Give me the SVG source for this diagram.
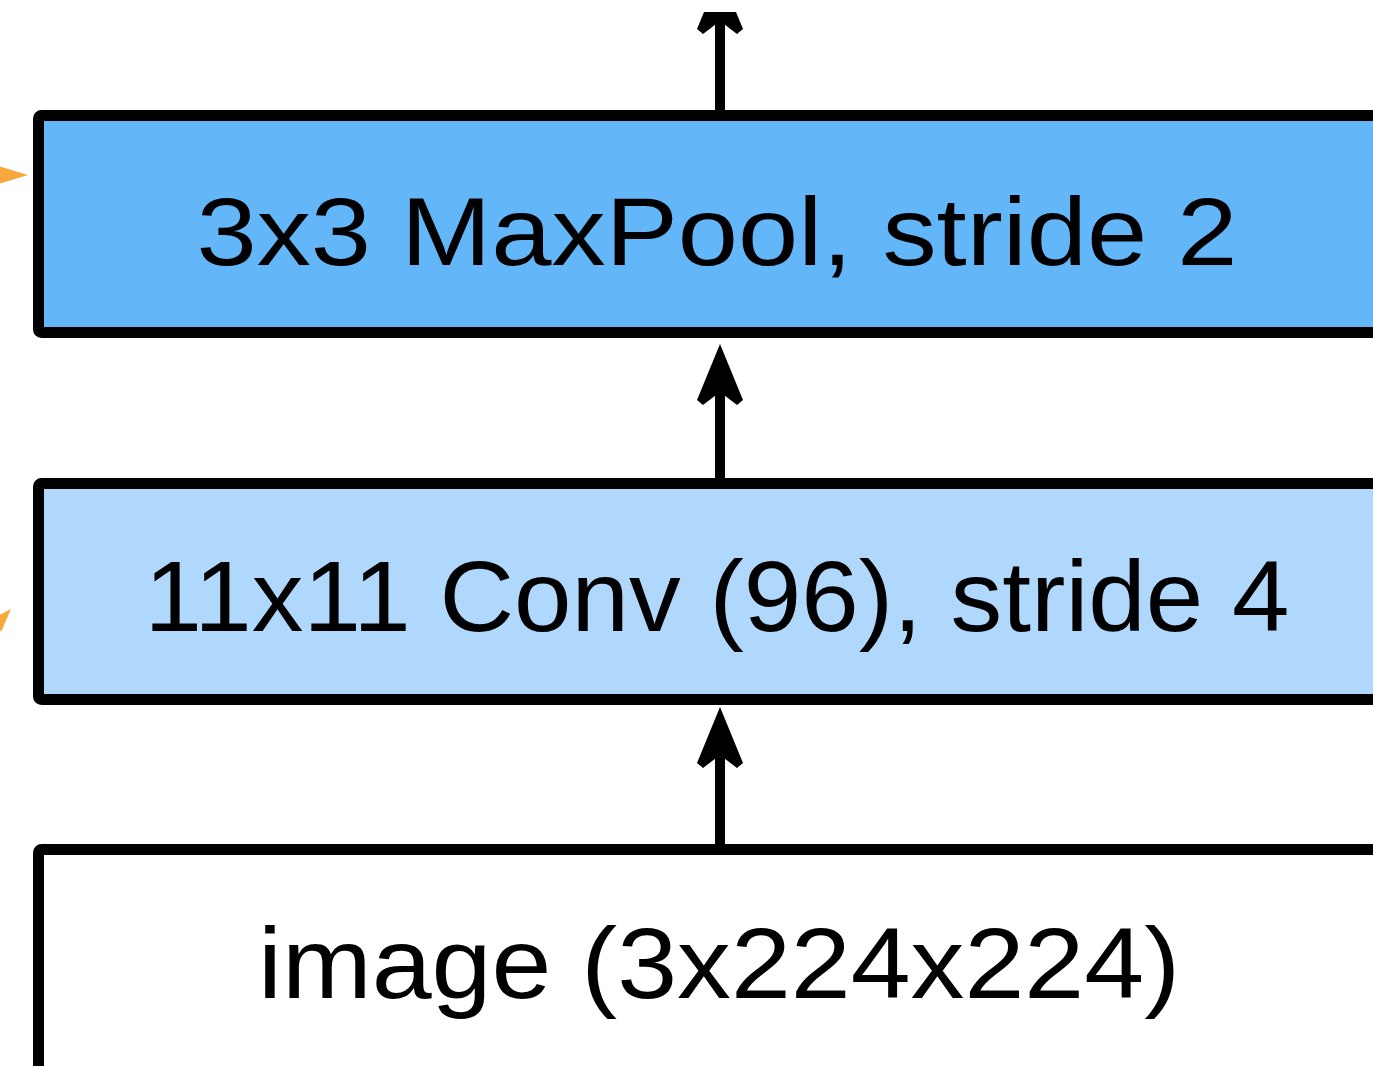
<svg xmlns="http://www.w3.org/2000/svg" xmlns:xlink="http://www.w3.org/1999/xlink" width="1373" height="1066" viewBox="0 0 1373 1066">
<style>
.box{stroke:#000;stroke-width:11;}
.pool{fill:#63b6f8;}
.conv{fill:#b0d7fc;}
.img{fill:#ffffff;}
.lbl{font-family:"Liberation Sans","Helvetica",Arial,sans-serif;fill:#000;text-anchor:middle;}
.shaft{stroke:#000;stroke-width:10;fill:none;}
.orange{fill:#f7a83c;}
</style>
<defs>
<path id="ah" d="M0,0 L23,56 L17,61 L0,48 L-17,61 L-23,56 Z" fill="#000"/>
<clipPath id="topclip"><rect x="0" y="12" width="1373" height="1054"/></clipPath>
</defs>
<rect x="0" y="0" width="1373" height="1066" fill="#ffffff"/>
<g id="connectors">
<g clip-path="url(#topclip)">
<line class="shaft" x1="720" y1="112" x2="720" y2="10"/>
<use xlink:href="#ah" x="720" y="-27"/>
</g>
<line class="shaft" x1="720" y1="480" x2="720" y2="380"/>
<use xlink:href="#ah" x="720" y="344"/>
<line class="shaft" x1="720" y1="846" x2="720" y2="740"/>
<use xlink:href="#ah" x="720" y="707"/>
<polygon class="orange" points="28,175 -2,166 -2,184"/>
<polygon class="orange" points="11,609 -6,618 1,632"/>
</g>
<g id="node-maxpool">
<rect class="box pool" x="38.5" y="115.5" width="1400" height="217" rx="3"/>
<text class="lbl" x="717" y="265" font-size="97" textLength="1041" lengthAdjust="spacingAndGlyphs">3x3 MaxPool, stride 2</text>
</g>
<g id="node-conv">
<rect class="box conv" x="38.5" y="483.5" width="1400" height="216" rx="3"/>
<text class="lbl" x="717" y="631" font-size="100" textLength="1145" lengthAdjust="spacingAndGlyphs">11x11 Conv (96), stride 4</text>
</g>
<g id="node-image">
<rect class="box img" x="38.5" y="849.5" width="1400" height="300" rx="3"/>
<text class="lbl" x="719" y="998" font-size="100" textLength="922" lengthAdjust="spacingAndGlyphs">image (3x224x224)</text>
</g>
</svg>
